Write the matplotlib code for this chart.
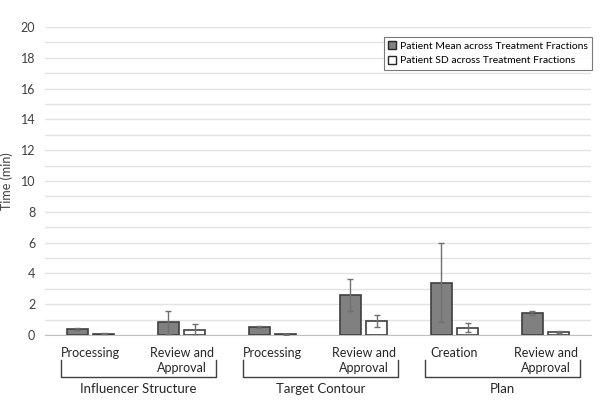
import numpy as np
import matplotlib.pyplot as plt
from matplotlib.patches import Patch

plt.rcParams['font.family'] = ['Lato', 'DejaVu Sans']

# data
categories = ['Processing', 'Review and\nApproval', 'Processing', 'Review and\nApproval',
              'Creation', 'Review and\nApproval']
groups = ['Influencer Structure', 'Target Contour', 'Plan']
mean_vals = [0.38, 0.82, 0.50, 2.62, 3.40, 1.45]
mean_err = [0.05, 0.75, 0.06, 1.03, 2.57, 0.13]
sd_vals = [0.08, 0.33, 0.05, 0.91, 0.47, 0.21]
sd_err = [0.02, 0.37, 0.02, 0.42, 0.28, 0.06]

x = np.arange(len(categories))
w = 0.23
off = 0.145

fig = plt.figure(figsize=(6, 4), dpi=100)
ax = fig.add_axes([0.075, 0.1625, 0.91, 0.77])

ax.bar(x - off, mean_vals, w, color='#808080', edgecolor='#404040', linewidth=1.2,
       yerr=mean_err, error_kw=dict(ecolor='#707070', elinewidth=1, capsize=2, capthick=1),
       zorder=3, label='Patient Mean across Treatment Fractions')
ax.bar(x + off, sd_vals, w, color='white', edgecolor='#404040', linewidth=1.2,
       yerr=sd_err, error_kw=dict(ecolor='#707070', elinewidth=1, capsize=2, capthick=1),
       zorder=3, label='Patient SD across Treatment Fractions')

ax.set_xlim(-0.5, len(categories) - 0.5)
ax.set_ylim(0, 20)
ax.set_yticks(np.arange(0, 21, 2))
ax.set_yticks(np.arange(0, 21, 1), minor=True)
ax.grid(axis='y', which='both', color='#e3e3e3', linewidth=1, zorder=0)
ax.tick_params(axis='y', which='both', length=0, labelsize=9, colors='#404040', pad=7)
ax.set_xticks([])
for s in ['top', 'right', 'left']:
    ax.spines[s].set_visible(False)
ax.spines['bottom'].set_color('#bfbfbf')
ax.set_ylabel('Time (min)', fontsize=9, color='#404040')
ax.yaxis.set_label_coords(-0.058, 0.5)

# category labels and group brackets
trans = ax.get_xaxis_transform()
for i, c in enumerate(categories):
    ax.text(x[i], -0.04, c, transform=trans, ha='center', va='top', fontsize=9,
            color='#262626', linespacing=1.3)
for g, name in enumerate(groups):
    x0 = x[2 * g] - 0.32
    x1 = x[2 * g + 1] + 0.38
    ax.plot([x0, x0, x1, x1], [-0.08, -0.135, -0.135, -0.08], transform=trans,
            color='#404040', linewidth=1, clip_on=False)
    ax.text((x0 + x1) / 2, -0.155, name, transform=trans, ha='center', va='top',
            fontsize=9.5, color='#262626')

handles = [Patch(facecolor='#808080', edgecolor='#262626'),
           Patch(facecolor='white', edgecolor='#262626')]
leg = ax.legend(handles, ['Patient Mean across Treatment Fractions',
                          'Patient SD across Treatment Fractions'],
                loc='upper right', bbox_to_anchor=(1.012, 0.985), fontsize=7.5,
                frameon=True, fancybox=False, handlelength=0.8, handleheight=0.8,
                handletextpad=0.4, borderpad=0.4, labelspacing=0.5)
leg.get_frame().set_edgecolor('#595959')
leg.get_frame().set_linewidth(0.8)

fig.savefig('out.png', dpi=100)
